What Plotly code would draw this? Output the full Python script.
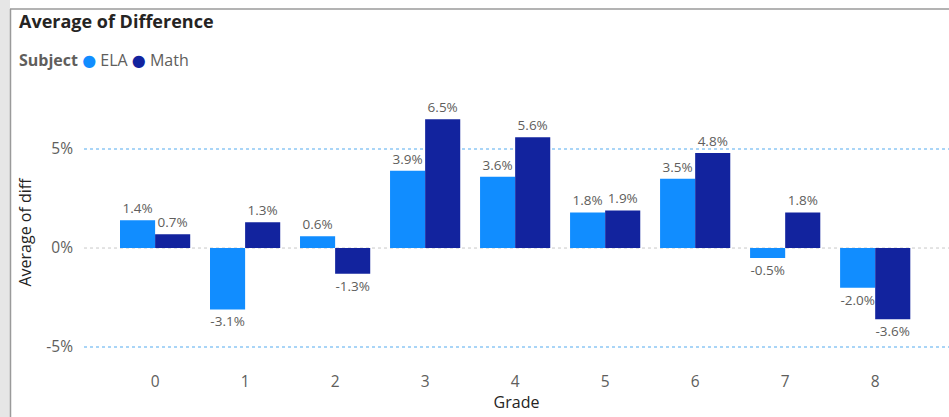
import plotly.graph_objects as go

grades = ["0", "1", "2", "3", "4", "5", "6", "7", "8"]
ela = [0.014, -0.031, 0.006, 0.039, 0.036, 0.018, 0.035, -0.005, -0.020]
math_ = [0.007, 0.013, -0.013, 0.065, 0.056, 0.019, 0.048, 0.018, -0.036]

W, H = 949, 417
L, R, T, B = 84, 0, 95, 47
FONT = "Segoe UI, Open Sans, DejaVu Sans, sans-serif"


def px_x(p):
    return (p - L) / (W - L - R)


def px_y(p):
    return (H - B - p) / (H - T - B)


fig = go.Figure()
for name, vals, col in [("ELA", ela, "#118DFF"), ("Math", math_, "#12239E")]:
    fig.add_trace(
        go.Bar(
            x=grades,
            y=vals,
            name=name,
            marker=dict(color=col, line=dict(width=0)),
            texttemplate="%{y:.1%}",
            textposition="outside",
            textfont=dict(size=13.5, color="#605E5C", family=FONT),
            cliponaxis=False,
            showlegend=False,
        )
    )

# grid lines drawn under the bars: blue dotted at +-5%, faint grey dots at 0
grid = [
    dict(type="line", xref="paper", yref="y", x0=0, x1=1, y0=v, y1=v, layer="below",
         line=dict(color="#A9D5F7", width=2, dash="dot"))
    for v in (-0.05, 0.05)
]
grid.append(dict(type="line", xref="paper", yref="y", x0=0, x1=1, y0=0, y1=0,
                 layer="below", line=dict(color="#C8C8C8", width=1, dash="dot")))

fig.update_layout(
    width=W,
    height=H,
    margin=dict(l=L, r=R, t=T, b=B),
    paper_bgcolor="white",
    plot_bgcolor="white",
    barmode="group",
    bargap=0.22,
    bargroupgap=0,
    font=dict(family=FONT),
    xaxis=dict(
        type="category",
        range=[-0.79, 8.82],
        tickfont=dict(size=15.5, color="#605E5C"),
        title=dict(text="Grade", font=dict(size=16, color="#252423"), standoff=2),
        showgrid=False,
        zeroline=False,
        showline=False,
        ticks="",
    ),
    yaxis=dict(
        range=[-0.0616, 0.0773],
        tickvals=[-0.05, 0, 0.05],
        ticktext=["-5%", "0%", "5%"],
        tickfont=dict(size=15.5, color="#605E5C"),
        ticklabelstandoff=10,
        title=dict(text="Average of diff", font=dict(size=16, color="#252423"), standoff=10),
        showgrid=False,
        zeroline=False,
        showline=False,
        ticks="",
    ),
    shapes=grid + [
        # visual frame: left shadow + border lines
        dict(type="rect", xref="paper", yref="paper", x0=px_x(0), x1=px_x(10),
             y0=px_y(H), y1=px_y(0), fillcolor="#E6E6E6", line=dict(width=0)),
        dict(type="line", xref="paper", yref="paper", x0=px_x(10.5), x1=px_x(10.5),
             y0=px_y(H), y1=px_y(9), line=dict(color="#9A9A9A", width=1.5)),
        dict(type="line", xref="paper", yref="paper", x0=px_x(10), x1=px_x(W),
             y0=px_y(9), y1=px_y(9), line=dict(color="#9A9A9A", width=1.5)),
    ],
    annotations=[
        dict(text="<b>Average of Difference</b>", xref="paper", yref="paper",
             x=px_x(17), y=px_y(21), xanchor="left", yanchor="middle",
             showarrow=False, font=dict(size=18, color="#252423")),
        dict(text="<b>Subject</b> <span style='color:#118DFF'>●</span> ELA "
                  "<span style='color:#12239E'>●</span> Math",
             xref="paper", yref="paper", x=px_x(17), y=px_y(60),
             xanchor="left", yanchor="middle", showarrow=False,
             font=dict(size=16, color="#605E5C")),
    ],
)

fig.write_html("out.html", config={"displayModeBar": False},
               post_script="document.body.style.margin='0';")
